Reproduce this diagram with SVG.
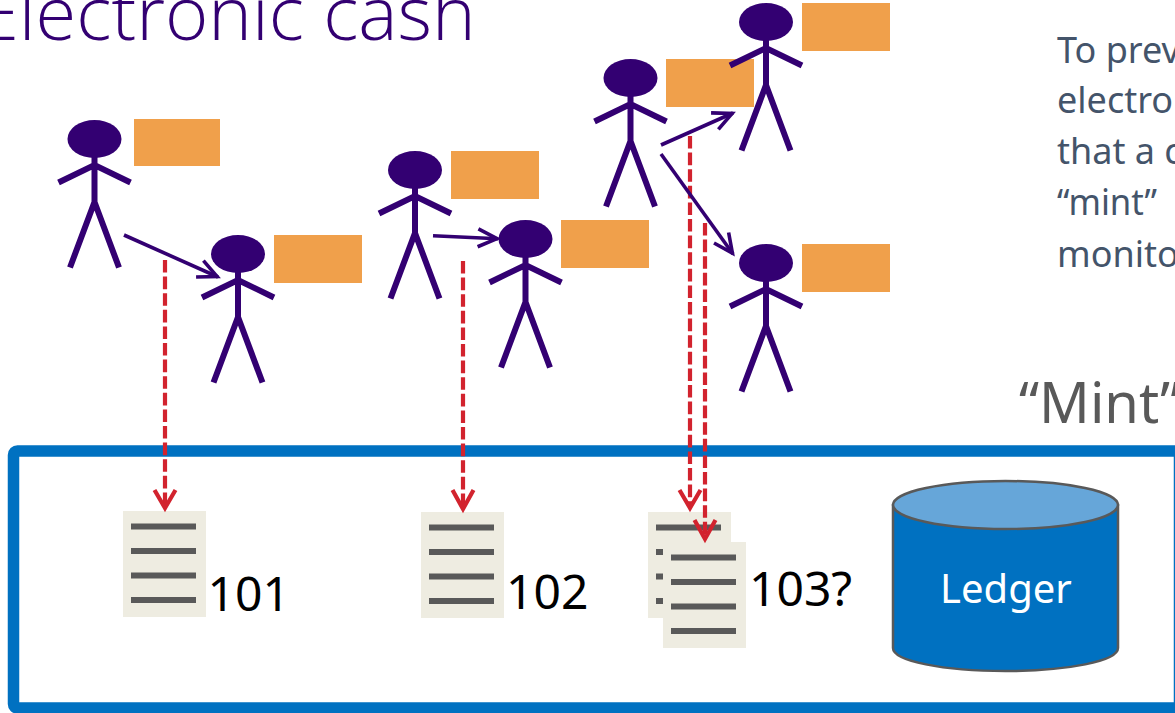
<svg xmlns="http://www.w3.org/2000/svg" width="1175" height="713" viewBox="0 0 1175 713">
<style>
.fig{fill:none;stroke:#330072;stroke-width:6}
.head{fill:#330072;stroke:none}
.coin{fill:#F0A04B}
.doc{fill:#EEECE1}
.ln{stroke:#595959;stroke-width:6;fill:none}
.pay{fill:none;stroke:#330072;stroke-width:3.6}
.rec{fill:none;stroke:#D2232E;stroke-width:4.2;stroke-dasharray:12.6 4}
.rh{fill:none;stroke:#D2232E;stroke-width:4.2}
.t{font-family:"Noto Sans","Open Sans",sans-serif}
.num{font-size:48px;fill:#000}
.body{font-size:36px;fill:#44546A}
</style>
<defs>
<g id="person">
<ellipse class="head" cx="0" cy="0" rx="27" ry="19"/>
<path class="fig" d="M0 15V63M-36 43.500L0 26L36 43.500M-24.500 128.500L0 63L24.500 128.500"/>
</g>
<g id="paper">
<rect class="doc" x="0" y="0" width="83" height="106"/>
<path class="ln" d="M8 15.500H73M8 40H73M8 64.500H73M8 89H73"/>
</g>
<marker id="open" markerUnits="userSpaceOnUse" markerWidth="28" markerHeight="28" refX="22" refY="14" orient="auto">
<path d="M2 5L21 14L2 23" fill="none" stroke="#330072" stroke-width="3.6"/>
</marker>
</defs>
<text id="title" x="-22" y="40" font-size="74" font-weight="300" fill="#330072" style="font-family:'Open Sans',sans-serif">Electronic cash</text>
<g id="intro" class="t body">
<text x="1057" y="63">To prev</text>
<text x="1057" y="113">electro</text>
<text x="1057" y="164">that a c</text>
<text x="1057" y="215" textLength="100" lengthAdjust="spacingAndGlyphs">“mint”</text>
<text x="1057" y="267">monito</text>
</g>
<text id="mint-label" class="t" x="1019" y="423" font-size="56" fill="#595959">“Mint”</text>
<g id="coin5"><rect class="coin" x="666" y="59" width="88" height="48"/></g>
<g id="person1"><use href="#person" x="94.500" y="139"/><rect class="coin" x="134" y="119" width="86" height="47"/></g>
<g id="person2"><use href="#person" x="238" y="254"/><rect class="coin" x="274" y="235" width="88" height="48"/></g>
<g id="person3"><use href="#person" x="415" y="170"/><rect class="coin" x="451" y="151" width="88" height="48"/></g>
<g id="person4"><use href="#person" x="525.500" y="239"/><rect class="coin" x="561" y="220" width="88" height="48"/></g>
<g id="person5"><use href="#person" x="630.500" y="78"/></g>
<g id="person6"><use href="#person" x="766" y="22"/><rect class="coin" x="802" y="3" width="88" height="48"/></g>
<g id="person7"><use href="#person" x="766" y="263"/><rect class="coin" x="802" y="244" width="88" height="48"/></g>
<g id="mint">
<rect x="13.500" y="451" width="1166" height="257" rx="4" fill="none" stroke="#0071C1" stroke-width="11.500"/>
</g>
<g id="tx101"><use href="#paper" x="123" y="511"/><text class="t num" x="207.500" y="611">101</text></g>
<g id="tx102"><use href="#paper" x="421" y="512"/><text class="t num" x="506" y="609">102</text></g>
<g id="tx103a"><use href="#paper" x="648" y="512"/></g>
<g id="tx103b"><use href="#paper" x="663" y="542"/><text class="t num" x="749" y="606">103?</text></g>
<g id="ledger">
<path d="M893 505V648C893 661 943 671 1005.500 671S1118 661 1118 648V505Z" fill="#0071C1" stroke="#595959" stroke-width="2.500"/>
<ellipse cx="1005.500" cy="505" rx="112.500" ry="24" fill="#66A6D9" stroke="#595959" stroke-width="2.500"/>
<text class="t" x="1006" y="603" font-size="40" fill="#fff" text-anchor="middle">Ledger</text>
</g>
<g id="connectors">
<path class="rec" d="M165 260V507"/>
<path class="rh" d="M154.500 490L165 508L175.500 490"/>
<path class="rec" d="M463 261V508"/>
<path class="rh" d="M452.500 490L463 509L473.500 490"/>
<path class="rec" d="M690 136V507"/>
<path class="rh" d="M679.500 490L690 508L700.500 490"/>
<path class="rec" d="M705 223V538"/>
<path class="rh" d="M694.500 520L705 539L715.500 520"/>
<path class="pay" d="M124 235L218 277" marker-end="url(#open)"/>
<path class="pay" d="M433 235.700L498 238.700" marker-end="url(#open)"/>
<path class="pay" d="M661 145L733 113" marker-end="url(#open)"/>
<path class="pay" d="M661 154L733 254" marker-end="url(#open)"/>
</g>
</svg>
